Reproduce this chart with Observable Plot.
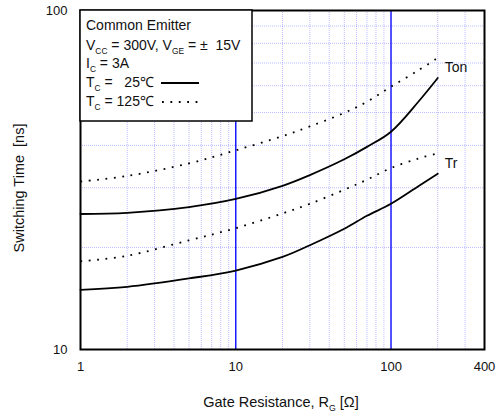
<!DOCTYPE html>
<html>
<head>
<meta charset="utf-8">
<script src="https://cdn.jsdelivr.net/npm/d3@7"></script>
<script src="https://cdn.jsdelivr.net/npm/@observablehq/plot@0.6"></script>
<style>
  body { margin: 0; background: #fff; }
  #chart svg { display: block; }
</style>
</head>
<body>
<div id="chart"></div>
<script>
// Gate resistance R_G [Ω] at which switching times were read
const rg = [1, 2, 5, 10, 20, 30, 50, 70, 100, 150, 200];

// Switching times [ns]
const ton25  = [25.1, 25.3, 26.3, 27.8, 30.4, 32.7, 36.4, 39.6, 43.9, 53.8, 63.2];
const ton125 = [31.3, 32.5, 35.4, 38.7, 42.6, 45.5, 49.9, 53.8, 59.6, 66.6, 72.5];
const tr25   = [15.0, 15.3, 16.2, 17.1, 18.75, 20.3, 22.7, 24.8, 26.9, 30.3, 33.0];
const tr125  = [18.2, 18.9, 21.0, 22.8, 25.2, 26.9, 29.6, 31.7, 34.3, 36.6, 37.9];

// Axis ticks and grid
const xTicks = [1, 10, 100, 400];
const yTicks = [10, 100];
const xMinorGrid = [2, 3, 4, 5, 6, 7, 8, 9, 20, 30, 40, 50, 60, 70, 80, 90, 200, 300];
const xMajorGrid = [10, 100];
const yMinorGrid = [20, 30, 40, 50, 60, 70, 80, 90];

// Curve names and the label drawn beside each pair
const curveNames = ["Ton", "Tr"];

const rows = (vals, name, temp) => rg.map((x, i) => ({x, y: vals[i], name, temp}));
const solid  = [...rows(ton25, "Ton", 25), ...rows(tr25, "Tr", 25)];
const dotted = [...rows(ton125, "Ton", 125), ...rows(tr125, "Tr", 125)];

// Labels sit just right of the last point, midway (in log space) between the two temperatures
const last = rg.length - 1;
const curveLabels = [
  {x: rg[last], y: Math.sqrt(ton25[last] * ton125[last]), text: curveNames[0]},
  {x: rg[last], y: Math.sqrt(tr25[last] * tr125[last]), text: curveNames[1]}
];

const FONT = "'Liberation Sans', Arial, Helvetica, sans-serif";
const DOTS = "1.8,6.6";

const chart = Plot.plot({
  width: 500,
  height: 419,
  marginLeft: 80,
  marginRight: 16,
  marginTop: 10,
  marginBottom: 70,
  style: {fontFamily: FONT, fontSize: "13px", color: "#111", background: "#fff"},
  x: {type: "log", domain: [1, 400]},
  y: {type: "log", domain: [10, 100]},
  marks: [
    Plot.ruleX(xMinorGrid, {stroke: "#7a7aff", strokeOpacity: 0.5, strokeDasharray: "1,1"}),
    Plot.ruleY(yMinorGrid, {stroke: "#7a7aff", strokeOpacity: 0.5, strokeDasharray: "1,1"}),
    Plot.ruleX(xMajorGrid, {stroke: "#1a1aff", strokeWidth: 1.5}),
    Plot.axisX({ticks: xTicks, tickFormat: d => String(d), tickSize: 0, tickPadding: 12, label: null, fontSize: 13}),
    Plot.axisY({ticks: yTicks, tickFormat: d => String(d), tickSize: 0, tickPadding: 13, label: null, fontSize: 13}),
    Plot.line(solid, {x: "x", y: "y", z: "name", curve: "catmull-rom", stroke: "#000", strokeWidth: 1.8}),
    Plot.line(dotted, {x: "x", y: "y", z: "name", curve: "catmull-rom", stroke: "#000", strokeWidth: 1.8,
      strokeDasharray: DOTS, strokeLinecap: "butt"}),
    Plot.text(curveLabels, {x: "x", y: "y", text: "text", dx: 7, textAnchor: "start", fontSize: 14}),
    Plot.frame({stroke: "#000", strokeWidth: 2})
  ]
});

document.getElementById("chart").appendChild(chart);

// Axis titles and the condition legend (these carry subscripts, so they are written as tspans)
const svg = d3.select(chart);

function richText(g, x, y, parts, size, anchor = "start") {
  const t = g.append("text").attr("x", x).attr("y", y)
    .attr("text-anchor", anchor)
    .attr("font-family", FONT).attr("font-size", size).attr("fill", "#111")
    .style("white-space", "pre");
  let sub = false;
  for (const p of parts) {
    if (p.sub) {
      t.append("tspan").attr("font-size", size * 0.6).attr("dy", size * 0.25).text(p.sub);
      sub = true;
    } else {
      t.append("tspan").attr("dy", sub ? -size * 0.25 : 0).text(p.t);
      sub = false;
    }
  }
  return t;
}

// x-axis title
richText(svg, 281, 407, [{t: "Gate Resistance, R"}, {sub: "G"}, {t: " [Ω]"}], 14.5, "middle");

// y-axis title
svg.append("text")
  .attr("transform", "translate(24,188) rotate(-90)")
  .attr("text-anchor", "middle")
  .attr("font-family", FONT).attr("font-size", 14.5).attr("fill", "#111")
  .style("white-space", "pre")
  .text("Switching Time  [ns]");

// legend box
const lg = svg.append("g");
lg.append("rect").attr("x", 80).attr("y", 10).attr("width", 172).attr("height", 111)
  .attr("fill", "#fff").attr("stroke", "#000").attr("stroke-width", 1.5);

richText(lg, 86, 30, [{t: "Common Emitter"}], 14);
richText(lg, 86, 50, [{t: "V"}, {sub: "CC"}, {t: " = 300V, V"}, {sub: "GE"}, {t: " = ±  15V"}], 14);
richText(lg, 86, 68, [{t: "I"}, {sub: "C"}, {t: " = 3A"}], 14);
richText(lg, 86, 87, [{t: "T"}, {sub: "C"}, {t: " =   25℃"}], 14);
richText(lg, 86, 106, [{t: "T"}, {sub: "C"}, {t: " = 125℃"}], 14);

lg.append("line").attr("x1", 161).attr("x2", 199).attr("y1", 83).attr("y2", 83)
  .attr("stroke", "#000").attr("stroke-width", 1.8);
lg.append("line").attr("x1", 162).attr("x2", 198).attr("y1", 102).attr("y2", 102)
  .attr("stroke", "#000").attr("stroke-width", 1.8).attr("stroke-dasharray", DOTS);
</script>
</body>
</html>
